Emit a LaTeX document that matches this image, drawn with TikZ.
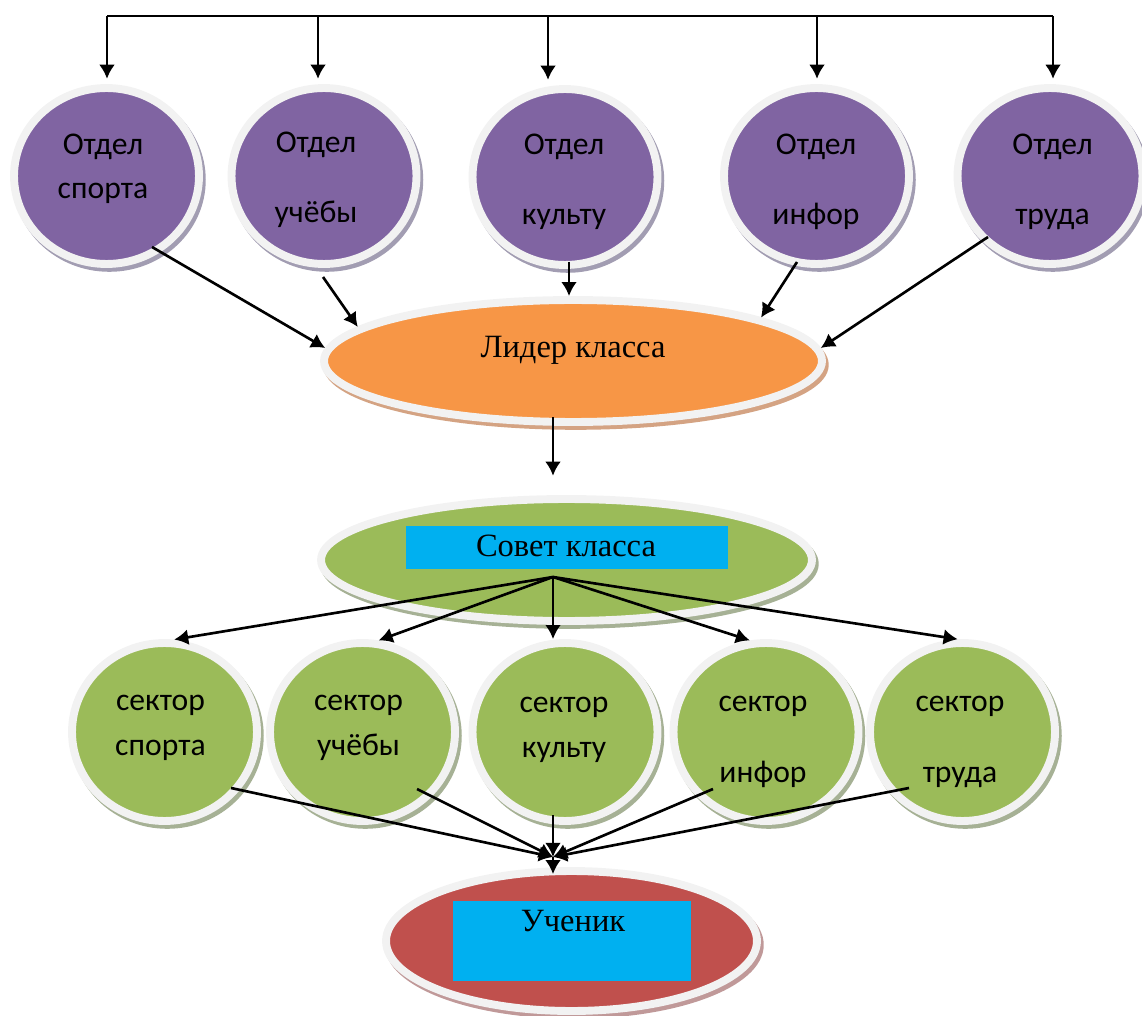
\documentclass[tikz,border=0pt]{standalone}
\usepackage{fontspec}
\setmainfont{Liberation Serif}
\newfontfamily\calibri{Carlito}
\usetikzlibrary{shapes.geometric,arrows.meta}
\definecolor{ringgray}{HTML}{F2F2F2}
\definecolor{violetfill}{HTML}{8064A2}
\definecolor{violetshadow}{HTML}{A29DB2}
\definecolor{orangefill}{HTML}{F79646}
\definecolor{orangeshadow}{HTML}{D4A383}
\definecolor{greenfill}{HTML}{9BBB59}
\definecolor{greenshadow}{HTML}{A6B195}
\definecolor{redfill}{HTML}{C0504D}
\definecolor{redshadow}{HTML}{C09999}
\definecolor{bluefill}{HTML}{00B0F0}
\begin{document}
\begin{tikzpicture}
  [x=0.02cm,y=-0.02cm,
   bubble/.style={ellipse,inner sep=0pt,draw=ringgray,line width=4.5pt,fill=#1},
   shadowed/.style={preaction={fill=#1,draw=#1,line width=4.5pt,
     transform canvas={shift={(1.6pt,-2.2pt)}}}},
   otdel/.style={bubble=violetfill,shadowed=violetshadow,minimum width=3.7cm,minimum height=3.52cm},
   sector/.style={bubble=greenfill,shadowed=greenshadow,minimum width=3.7cm,minimum height=3.56cm},
   bluebox/.style={rectangle,fill=bluefill,inner sep=0pt},
   ctext/.style={font=\calibri\fontsize{18}{25.5}\selectfont,align=center,inner sep=0pt,anchor=base},
   stext/.style={font=\fontsize{18.5}{22}\selectfont,inner sep=0pt,anchor=base},
   arr/.style={-{Latex[length=8pt,width=9pt]},line width=1.5pt}]
  \useasboundingbox (0,0) rectangle (1142,1016);

  \node[otdel] (d1) at (106.5,176) {};
  \node[otdel] (d2) at (324,176) {};
  \node[otdel] (d3) at (565,177) {};
  \node[otdel] (d4) at (816.5,176) {};
  \node[otdel] (d5) at (1050,176) {};

  \node[bubble=orangefill,shadowed=orangeshadow,minimum width=9.96cm,minimum height=2.44cm] (lider) at (573,361) {};
  \node[bubble=greenfill,shadowed=greenshadow,minimum width=9.82cm,minimum height=2.44cm] (sovet) at (566.5,560) {};
  \node[bluebox,minimum width=6.44cm,minimum height=0.86cm] (sovetbox) at (567,547.5) {};

  \node[sector] (s1) at (164.5,732) {};
  \node[sector] (s2) at (362.5,732) {};
  \node[sector] (s3) at (565,732) {};
  \node[sector] (s4) at (766,732) {};
  \node[sector] (s5) at (962.5,732) {};

  \node[bubble=redfill,shadowed=redshadow,minimum width=7.42cm,minimum height=2.8cm] (uchenik) at (571.5,941) {};
  \node[bluebox,minimum width=4.76cm,minimum height=1.6cm] (uchbox) at (572,941) {};

  \coordinate (t1) at (107,16);
  \coordinate (t2) at (318,16);
  \coordinate (t3) at (548,16);
  \coordinate (t4) at (817,16);
  \coordinate (t5) at (1053,16);
  \draw[line width=1.1pt] (t1) -- (t5);
  \draw[arr,shorten >=3pt] (t1) -- (t1 |- d1.north);
  \draw[arr,shorten >=3pt] (t2) -- (t2 |- d2.north);
  \draw[arr,shorten >=3pt] (t3) -- (t3 |- d3.north);
  \draw[arr,shorten >=3pt] (t4) -- (t4 |- d4.north);
  \draw[arr,shorten >=3pt] (t5) -- (t5 |- d5.north);

  \coordinate (d1out) at (152,247);
  \coordinate (d2out) at (323,277);
  \coordinate (d3out) at (569,262);
  \coordinate (d4out) at (797,262);
  \coordinate (d5out) at (988,237);
  \draw[arr] (d1out) -- (lider.177);
  \draw[arr] (d2out) -- (lider.171);
  \draw[arr] (d3out) -- (d3out |- lider.north);
  \draw[arr] (d4out) -- (lider.13);
  \draw[arr] (d5out) -- (lider.3);

  \coordinate (hubtop) at (553,577);
  \draw[arr,shorten <=-5pt,shorten >=11pt] (hubtop |- lider.south) -- (hubtop |- sovet.north);
  \draw[arr] (hubtop) -- (s1.84);
  \draw[arr] (hubtop) -- (s2.80);
  \draw[arr] (hubtop) -- (hubtop |- s3.north);
  \draw[arr] (hubtop) -- (s4.100);
  \draw[arr] (hubtop) -- (s5.93);

  \coordinate (hubbot) at (553,857);
  \coordinate (s1out) at (231,788);
  \coordinate (s2out) at (417,789);
  \coordinate (s3out) at (553,815);
  \coordinate (s4out) at (713,789);
  \coordinate (s5out) at (909,788);
  \draw[arr] (s1out) -- (hubbot);
  \draw[arr] (s2out) -- (hubbot);
  \draw[arr] (s3out) -- (hubbot);
  \draw[arr] (s4out) -- (hubbot);
  \draw[arr] (s5out) -- (hubbot);
  \draw[arr,shorten >=-4pt] (hubbot) -- (hubbot |- uchenik.north);

  \node[ctext] (d1txt) at (103,199) {Отдел\\спорта};
  \node[ctext] (d2txt) at (316,223) {Отдел\\[14.75pt]учёбы};
  \node[ctext] (d3txt) at (564,225) {Отдел\\[14.75pt]культу};
  \node[ctext] (d4txt) at (816,225) {Отдел\\[14.75pt]инфор};
  \node[ctext] (d5txt) at (1052.5,225) {Отдел\\[14.75pt]труда};
  \node[ctext] (s1txt) at (160.5,755) {сектор\\спорта};
  \node[ctext] (s2txt) at (358.5,755) {сектор\\учёбы};
  \node[ctext] (s3txt) at (564,757) {сектор\\культу};
  \node[ctext] (s4txt) at (763,782) {сектор\\[14.75pt]инфор};
  \node[ctext] (s5txt) at (960,782) {сектор\\[14.75pt]труда};
  \node[stext] (lidertxt) at (573,358) {Лидер класса};
  \node[stext] (sovettxt) at (566,556) {Совет класса};
  \node[stext] (uchtxt) at (573,931) {Ученик};
\end{tikzpicture}
\end{document}
